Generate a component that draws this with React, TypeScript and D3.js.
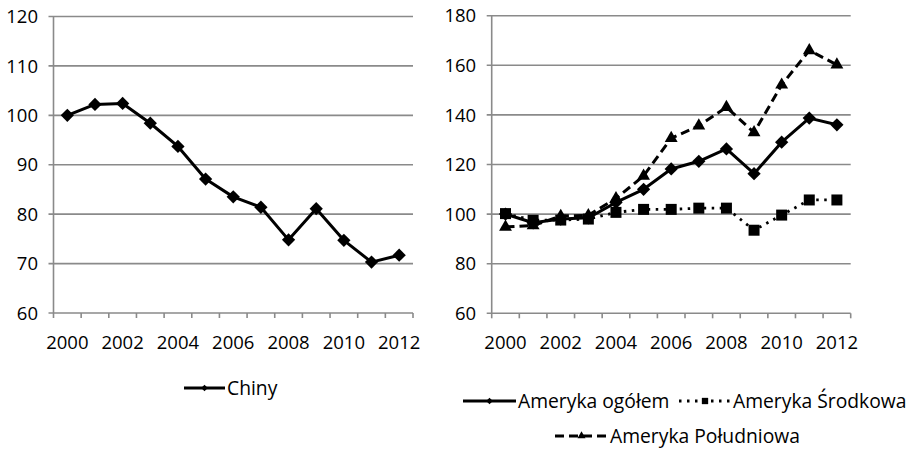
import * as d3 from "d3";
import { useEffect, useRef } from "react";

const width = 912;
const height = 449;
const font = "'Open Sans', sans-serif";

// data
const years = ["2000", "2001", "2002", "2003", "2004", "2005", "2006", "2007", "2008", "2009", "2010", "2011", "2012"];
const chiny = [100, 102.2, 102.4, 98.4, 93.7, 87.1, 83.5, 81.4, 74.8, 81.1, 74.7, 70.3, 71.7];
const amerykaOgolem = [100, 96.5, 98, 98.5, 104.7, 110, 118.2, 121.3, 126.3, 116.3, 129, 138.7, 136];
const amerykaSrodkowa = [100.2, 97.5, 97.6, 98, 100.7, 101.9, 101.9, 102.4, 102.4, 93.5, 99.6, 105.7, 105.7];
const amerykaPoludniowa = [94.8, 95.4, 99.2, 99.5, 106.3, 115.4, 130.6, 135.6, 143.1, 132.9, 152.1, 166, 160.2];
const leftTicks = [60, 70, 80, 90, 100, 110, 120];
const rightTicks = [60, 80, 100, 120, 140, 160, 180];

type Series = { name: string; values: number[]; dash: string; sw: number; marker: string };

const chinySeries: Series[] = [{ name: "Chiny", values: chiny, dash: "", sw: 3, marker: "diamond" }];
const americaSeries: Series[] = [
  { name: "Ameryka ogółem", values: amerykaOgolem, dash: "", sw: 3, marker: "diamond" },
  { name: "Ameryka Środkowa", values: amerykaSrodkowa, dash: "2.5,5.5", sw: 2.8, marker: "square" },
  { name: "Ameryka Południowa", values: amerykaPoludniowa, dash: "9,5", sw: 3, marker: "triangle" },
];

function markerPath(kind: string, big: boolean) {
  if (kind === "diamond") return { d: d3.symbol(d3.symbolSquare, big ? 88 : 22)(), rot: 45 };
  if (kind === "square") return { d: d3.symbol(d3.symbolSquare, big ? 121 : 40)(), rot: 0 };
  return { d: d3.symbol(d3.symbolTriangle, big ? 72 : 28)(), rot: 0 };
}

function drawPanel(svg: any, opts: { left: number; right: number; top: number; bottom: number; domain: [number, number]; ticks: number[]; series: Series[] }) {
  const x = d3.scaleBand().domain(years).range([opts.left, opts.right]).padding(0);
  const y = d3.scaleLinear().domain(opts.domain).range([opts.bottom, opts.top]);
  const g = svg.append("g");
  const grid = "#8a8a8a";

  // gridlines + y ticks
  g.selectAll(".grid")
    .data(opts.ticks)
    .join("line")
    .attr("x1", opts.left - 5)
    .attr("x2", opts.right)
    .attr("y1", (d: number) => y(d))
    .attr("y2", (d: number) => y(d))
    .attr("stroke", grid)
    .attr("stroke-width", 1.6);

  g.selectAll(".ylab")
    .data(opts.ticks)
    .join("text")
    .attr("x", opts.left - 15.5)
    .attr("y", (d: number) => y(d))
    .attr("dy", "0.36em")
    .attr("text-anchor", "end")
    .attr("font-family", font)
    .attr("font-size", 18.5)
    .attr("fill", "#000")
    .text((d: number) => d);

  // y axis line
  g.append("line")
    .attr("x1", opts.left).attr("x2", opts.left)
    .attr("y1", opts.top).attr("y2", opts.bottom)
    .attr("stroke", grid).attr("stroke-width", 1.6);

  // x ticks at band edges
  const edges = years.map((yr) => x(yr) as number).concat([opts.right]);
  g.selectAll(".xtick")
    .data(edges)
    .join("line")
    .attr("x1", (d: number) => d).attr("x2", (d: number) => d)
    .attr("y1", opts.bottom).attr("y2", opts.bottom + 5)
    .attr("stroke", grid).attr("stroke-width", 1.6);

  g.selectAll(".xlab")
    .data(years.filter((_, i) => i % 2 === 0))
    .join("text")
    .attr("x", (d: string) => (x(d) as number) + x.bandwidth() / 2)
    .attr("y", opts.bottom + 36)
    .attr("text-anchor", "middle")
    .attr("font-family", font)
    .attr("font-size", 18.5)
    .attr("fill", "#000")
    .text((d: string) => d);

  const line = d3.line<number>()
    .x((_, i) => (x(years[i]) as number) + x.bandwidth() / 2)
    .y((d) => y(d));

  opts.series.forEach((s) => {
    g.append("path")
      .attr("d", line(s.values))
      .attr("fill", "none")
      .attr("stroke", "#000")
      .attr("stroke-width", s.sw)
      .attr("stroke-dasharray", s.dash || null)
      .attr("stroke-linejoin", "round");
    const m = markerPath(s.marker, true);
    g.selectAll(null)
      .data(s.values)
      .join("path")
      .attr("d", m.d)
      .attr("transform", (d: number, i: number) => `translate(${(x(years[i]) as number) + x.bandwidth() / 2},${y(d)}) rotate(${m.rot})`)
      .attr("fill", "#000");
  });
}

function legendItem(svg: any, s: Series, x0: number, x1: number, cy: number) {
  svg.append("line")
    .attr("x1", x0).attr("x2", x1).attr("y1", cy).attr("y2", cy)
    .attr("stroke", "#000").attr("stroke-width", s.sw)
    .attr("stroke-dasharray", s.dash || null);
  const m = markerPath(s.marker, false);
  svg.append("path")
    .attr("d", m.d)
    .attr("transform", `translate(${(x0 + x1) / 2},${cy}) rotate(${m.rot})`)
    .attr("fill", "#000");
  svg.append("text")
    .attr("x", x1 + 2)
    .attr("y", cy)
    .attr("dy", "0.36em")
    .attr("font-family", font)
    .attr("font-size", 19.3)
    .attr("fill", "#000")
    .text(s.name);
}

const App = () => {
  const ref = useRef<HTMLDivElement>(null);

  useEffect(() => {
    if (!ref.current) return;
    ref.current.innerHTML = "";
    const svg = d3.create("svg")
      .attr("width", width)
      .attr("height", height)
      .style("position", "absolute")
      .style("left", "0px")
      .style("top", "0px")
      .style("background", "#fff");

    drawPanel(svg, { left: 53.5, right: 413, top: 16.5, bottom: 313, domain: [60, 120], ticks: leftTicks, series: chinySeries });
    drawPanel(svg, { left: 491.7, right: 850.7, top: 15.7, bottom: 313.3, domain: [60, 180], ticks: rightTicks, series: americaSeries });

    legendItem(svg, chinySeries[0], 184, 225, 388);
    legendItem(svg, americaSeries[0], 463, 516, 401);
    legendItem(svg, americaSeries[1], 679, 731, 401);
    legendItem(svg, americaSeries[2], 555, 608, 436);

    ref.current.append(svg.node() as SVGSVGElement);
  }, []);

  return <div ref={ref}></div>;
};

export default App;
